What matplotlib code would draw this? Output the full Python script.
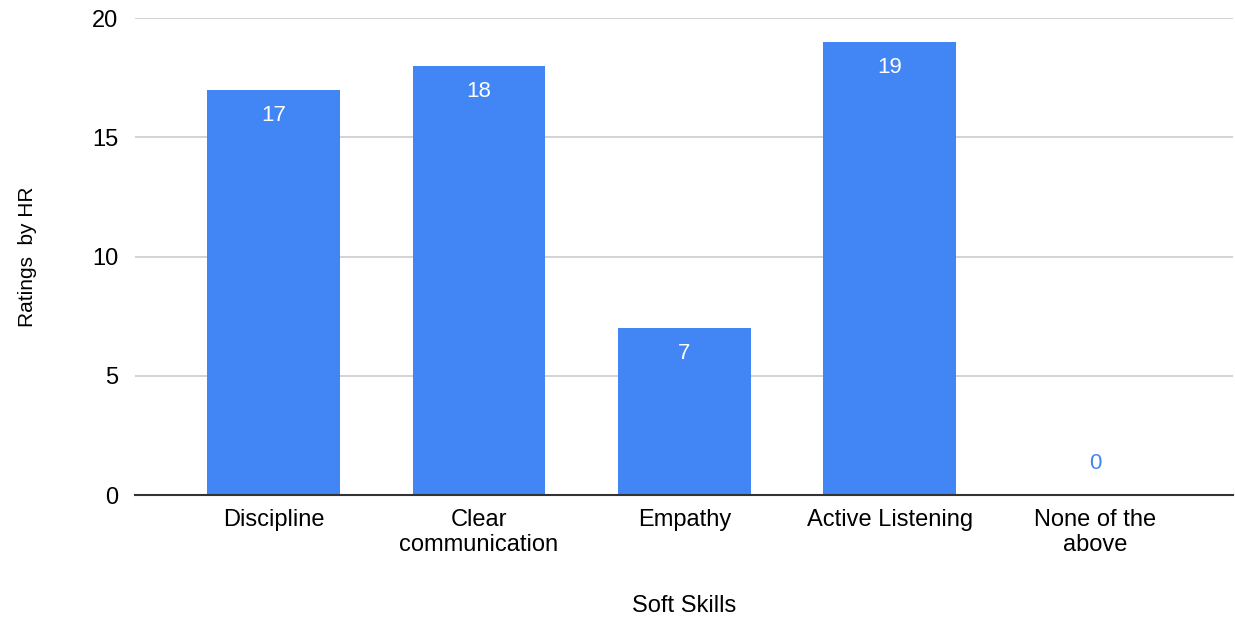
import numpy as np
import matplotlib
matplotlib.use("Agg")
from matplotlib import pyplot as plt

# soft skills rated by HR
skills = ["Discipline", "Clear\ncommunication", "Empathy", "Active Listening", "None of the\nabove"]
ratings = [17, 18, 7, 19, 0]
yticks = [0, 5, 10, 15, 20]

BLUE = "#4285F4"

plt.rcParams['font.family'] = ['Liberation Sans', 'DejaVu Sans']

fig = plt.figure(figsize=(12.35, 6.17), dpi=100)
ax = fig.add_axes([0.1093, 0.1977, 0.8887, 0.7731])

x = np.arange(len(skills))
bars = ax.bar(x, ratings, width=0.647, color=BLUE, zorder=3)

# value labels: white inside the bar, blue above the axis for empty bars
for xi, v in zip(x, ratings):
	if v > 0:
		ax.annotate(str(v), (xi, v), xytext=(0, -18.5), textcoords="offset points",
			ha="center", va="center", color="white", fontsize=16, zorder=4)
	else:
		ax.annotate(str(v), (xi, v), xytext=(0, 23), textcoords="offset points",
			ha="center", va="center", color=BLUE, fontsize=16, zorder=4)

ax.set_xlim(-0.674, 4.667)
ax.set_ylim(0, 20)
ax.set_yticks(yticks)
ax.set_xticks(x)
ax.set_xticklabels(skills, fontsize=17, linespacing=1.2)
ax.tick_params(axis="y", labelsize=17, length=0, pad=12)
ax.tick_params(axis="x", length=0, pad=10)

ax.grid(axis="y", color="#cccccc", linewidth=1.2, zorder=0)
for side in ["top", "right", "left"]:
	ax.spines[side].set_visible(False)
ax.spines["bottom"].set_color("#333333")
ax.spines["bottom"].set_linewidth(1.5)
ax.spines["bottom"].set_zorder(5)

ax.set_xlabel("Soft Skills", fontsize=17, labelpad=28)
ax.set_ylabel("Ratings  by HR", fontsize=15, labelpad=40)

fig.savefig("out.png", dpi=100, facecolor="white")
